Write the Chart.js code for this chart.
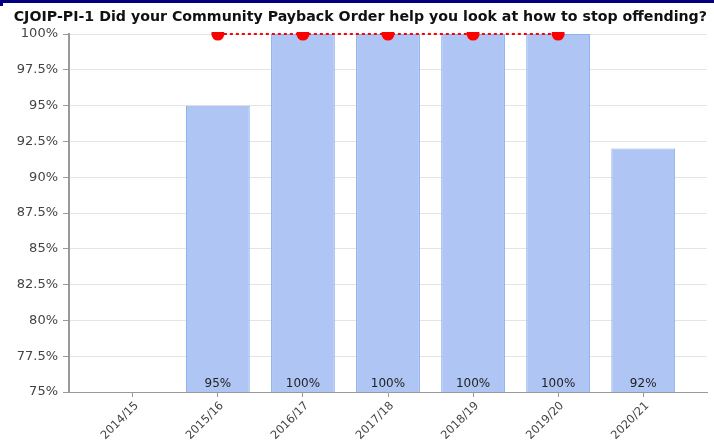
<!DOCTYPE html>
<html>
<head>
<meta charset="utf-8">
<script src="https://cdn.jsdelivr.net/npm/chart.js@4.4.0/dist/chart.umd.min.js"></script>
<style>
  html, body { margin: 0; padding: 0; background: #fff; }
  #wrap { width: 714px; height: 446px; position: relative; }
</style>
</head>
<body>
<div id="wrap"><canvas id="chart"></canvas></div>
<script>
// Données du graphique
const categories = ['2014/15', '2015/16', '2016/17', '2017/18', '2018/19', '2019/20', '2020/21'];
const resultValues = [null, 95, 100, 100, 100, 100, 92];
const targetValues = [null, 100, 100, 100, 100, 100, null];
const yTicks = [75, 77.5, 80, 82.5, 85, 87.5, 90, 92.5, 95, 97.5, 100];

const axisGrey = '#999999';

// Bande bleu marine en haut + étiquettes dans les barres
const decorPlugin = {
    id: 'decor',
    beforeDraw(chart) {
        const ctx = chart.ctx;
        ctx.save();
        ctx.fillStyle = '#ffffff';
        ctx.fillRect(0, 0, chart.width, chart.height);
        ctx.fillStyle = '#000080';
        ctx.fillRect(0, 0, chart.width, 3);
        ctx.fillRect(0, 3, 3, 3);
        ctx.restore();
    },
    afterDatasetsDraw(chart) {
        const ctx = chart.ctx;
        const meta = chart.getDatasetMeta(0);
        ctx.save();
        ctx.font = '12px "DejaVu Sans"';
        ctx.fillStyle = '#222';
        ctx.textAlign = 'center';
        ctx.textBaseline = 'alphabetic';
        meta.data.forEach((bar, i) => {
            const v = resultValues[i];
            if (v === null) return;
            ctx.fillText(v + '%', bar.x, chart.chartArea.bottom - 5);
        });
        ctx.restore();
    }
};

const chart = new Chart(document.getElementById('chart'), {
    type: 'bar',
    data: {
        datasets: [{
            type: 'bar',
            data: resultValues.map((v, i) => ({ x: i, y: v })),
            backgroundColor: '#afc6f5',
            borderColor: '#8fb0ec',
            borderWidth: 1,
            categoryPercentage: 1,
            barPercentage: 0.75,
            order: 1
        }, {
            type: 'line',
            data: targetValues.map((v, i) => ({ x: i, y: v })),
            borderColor: '#ff0000',
            borderWidth: 2,
            borderDash: [3, 3],
            pointRadius: 6.5,
            pointBackgroundColor: '#ff0000',
            pointBorderWidth: 0,
            fill: false,
            clip: { left: 5, right: 5, top: 2, bottom: 5 },
            order: 0
        }]
    },
    options: {
        responsive: true,
        maintainAspectRatio: false,
        animation: false,
        layout: { padding: { left: 0, right: 7, top: 0, bottom: 0 } },
        scales: {
            x: {
                type: 'linear',
                offset: false,
                min: -0.75,
                max: 6.75,
                afterBuildTicks: (axis) => {
                    axis.ticks = categories.map((c, i) => ({ value: i }));
                },
                afterFit: (axis) => { axis.height = 54; },
                ticks: {
                    callback: (v) => categories[v],
                    maxRotation: 45,
                    minRotation: 45,
                    autoSkip: false,
                    color: '#444',
                    font: { family: 'DejaVu Sans', size: 11.5 },
                    padding: 2,
                    labelOffset: 4
                },
                grid: {
                    offset: false,
                    drawOnChartArea: false,
                    drawTicks: true,
                    tickLength: 5,
                    tickColor: axisGrey
                },
                border: { color: axisGrey, width: 1 }
            },
            y: {
                min: 75,
                max: 100,
                afterBuildTicks: (axis) => {
                    axis.ticks = yTicks.map(v => ({ value: v }));
                },
                afterFit: (axis) => { axis.width = 69; },
                ticks: {
                    callback: (v) => v + '%',
                    color: '#444',
                    font: { family: 'DejaVu Sans', size: 13 },
                    padding: 5
                },
                grid: {
                    color: '#e4e4e4',
                    tickColor: axisGrey,
                    tickLength: 6
                },
                border: { color: axisGrey, width: 2 }
            }
        },
        plugins: {
            legend: { display: false },
            tooltip: { enabled: false },
            title: {
                display: true,
                text: 'CJOIP-PI-1 Did your Community Payback Order help you look at how to stop offending?',
                align: 'end',
                color: '#111',
                font: { family: 'DejaVu Sans', size: 14.2, weight: 'bold' },
                padding: { top: 9, bottom: 8 }
            }
        }
    },
    plugins: [decorPlugin]
});
</script>
</body>
</html>
